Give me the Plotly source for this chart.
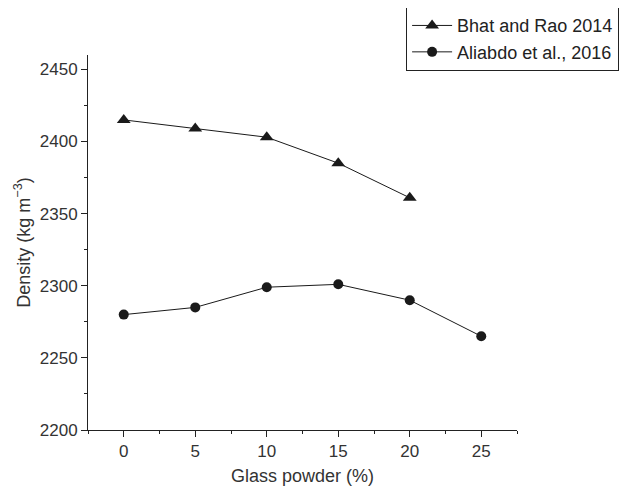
import plotly.graph_objects as go

x_bhat = [0, 5, 10, 15, 20]
y_bhat = [2415, 2409, 2403, 2385, 2361]
x_ali = [0, 5, 10, 15, 20, 25]
y_ali = [2280, 2285, 2299, 2301, 2290, 2265]
x_ticks = [0, 5, 10, 15, 20, 25]
y_ticks = [2200, 2250, 2300, 2350, 2400, 2450]

FONT = "Liberation Sans, Arial"

fig = go.Figure()
fig.add_trace(go.Scatter(x=x_bhat, y=y_bhat, mode="lines+markers", name="Bhat and Rao 2014",
                         line=dict(color="#1a1a1a", width=1),
                         marker=dict(symbol="triangle-up", size=12, color="#1a1a1a")))
fig.add_trace(go.Scatter(x=x_ali, y=y_ali, mode="lines+markers", name="Aliabdo et al., 2016",
                         line=dict(color="#1a1a1a", width=1),
                         marker=dict(symbol="circle", size=10, color="#1a1a1a")))

axis_common = dict(showline=True, linecolor="#222", linewidth=1, ticks="outside", ticklen=6,
                   tickcolor="#222", showgrid=False, zeroline=False,
                   tickfont=dict(family=FONT, size=17, color="#333"),
                   minor=dict(ticks="outside", ticklen=3, tickcolor="#222", showgrid=False))
fig.update_xaxes(range=[-2.5, 27.5], tickvals=x_ticks,
                 title=dict(text="Glass powder (%)", font=dict(family=FONT, size=18, color="#333"), standoff=8),
                 **axis_common)
fig.update_xaxes(minor_dtick=2.5, minor_tick0=-2.5)
fig.update_yaxes(range=[2200, 2460], tickvals=y_ticks,
                 title=dict(text="Density (kg m<sup>−3</sup>)", font=dict(family=FONT, size=18, color="#333"), standoff=4),
                 **axis_common)
fig.update_yaxes(minor_dtick=25, minor_tick0=2200)

fig.update_layout(
    width=619, height=482,
    margin=dict(l=80, r=110, t=47, b=60, autoexpand=False),
    plot_bgcolor="white", paper_bgcolor="white",
    font=dict(family=FONT, color="#222"),
    legend=dict(x=1.238, y=1.13, xanchor="right", yanchor="top",
                bordercolor="#222", borderwidth=1, bgcolor="white",
                font=dict(family=FONT, size=18, color="#222"),
                tracegroupgap=0, itemwidth=40),
    showlegend=True,
)
fig.write_html("out.html")
